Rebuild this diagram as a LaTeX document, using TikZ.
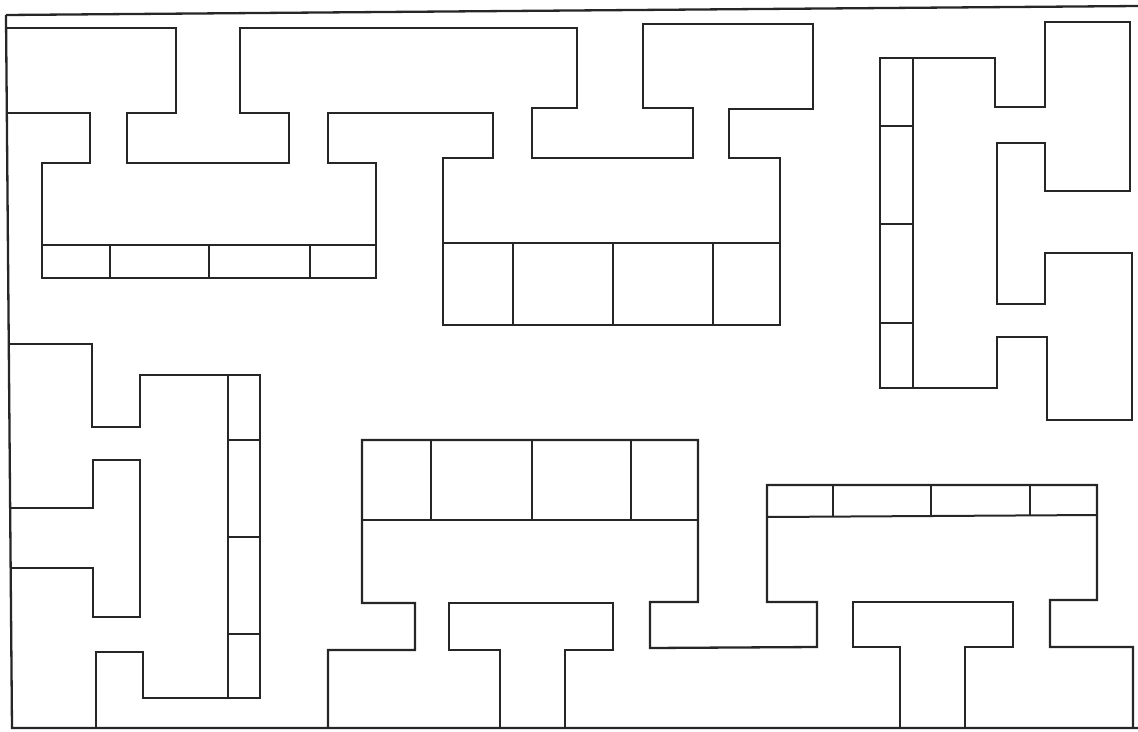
\documentclass[tikz,border=0pt]{standalone}
\usepackage{tikz}

\begin{document}
\begin{tikzpicture}[
    x=1pt, y=-1pt,
    wall/.style={draw=black!85, line width=2.3pt, line join=miter},
    room/.style={draw=black!85, line width=2pt},
]
    \useasboundingbox (0,0) rectangle (1138,731);

    % frame
    \draw[wall] (6,15) -- (1138,6);
    \draw[wall] (6,15) -- (12,728) -- (1138,728);

    % upper chain of blocks
    \draw[wall] (7,28) -- (176,28) -- (176,113) -- (127,113) -- (127,163) -- (289,163)
        -- (289,113) -- (240,113) -- (240,28) -- (577,28) -- (577,108) -- (532,108)
        -- (532,158) -- (693,158) -- (693,108) -- (643,108) -- (643,24) -- (813,24)
        -- (813,109) -- (729,109) -- (729,158) -- (780,158) -- (780,325) -- (443,325)
        -- (443,158) -- (493,158) -- (493,113) -- (328,113) -- (328,163) -- (376,163)
        -- (376,278) -- (42,278) -- (42,163) -- (90,163) -- (90,113) -- (8,113);
    \draw[room] (42,245) -- (376,245);
    \foreach \x in {110,209,310} \draw[room] (\x,245) -- (\x,278);
    \draw[room] (443,243) -- (780,243);
    \foreach \x in {513,613,713} \draw[room] (\x,243) -- (\x,325);

    % right block
    \draw[wall] (880,58) -- (995,58) -- (995,107) -- (1045,107) -- (1045,22) -- (1130,22)
        -- (1130,191) -- (1045,191) -- (1045,143) -- (997,143) -- (997,304) -- (1045,304)
        -- (1045,253) -- (1132,253) -- (1132,420) -- (1047,420) -- (1047,337) -- (997,337)
        -- (997,388) -- (880,388) -- cycle;
    \draw[room] (913,58) -- (913,388);
    \foreach \y in {126,224,323} \draw[room] (880,\y) -- (913,\y);

    % left block
    \draw[wall] (9,344) -- (92,344) -- (92,427) -- (140,427) -- (140,375) -- (260,375)
        -- (260,698) -- (143,698) -- (143,652) -- (96,652) -- (96,728);
    \draw[wall] (10,508) -- (93,508) -- (93,460) -- (140,460) -- (140,617) -- (93,617)
        -- (93,568) -- (10,568);
    \draw[room] (228,375) -- (228,698);
    \foreach \y in {440,537,634} \draw[room] (228,\y) -- (260,\y);

    % lower chain of blocks
    \draw[wall] (328,728) -- (328,650) -- (415,650) -- (415,603) -- (362,603) -- (362,440)
        -- (698,440) -- (698,602) -- (650,602) -- (650,648) -- (817,647) -- (817,602)
        -- (767,602) -- (767,485) -- (1097,485) -- (1097,600) -- (1050,600) -- (1050,647)
        -- (1133,647) -- (1133,728);
    \draw[wall] (500,728) -- (500,650) -- (449,650) -- (449,603) -- (613,603) -- (613,650)
        -- (565,650) -- (565,728);
    \draw[wall] (900,728) -- (900,647) -- (853,647) -- (853,602) -- (1013,602) -- (1013,647)
        -- (965,647) -- (965,728);
    \draw[room] (362,520) -- (698,520);
    \foreach \x in {431,532,631} \draw[room] (\x,440) -- (\x,520);
    \draw[room] (767,517) -- (1097,515);
    \foreach \x in {833,931,1030} \draw[room] (\x,485) -- (\x,516);
\end{tikzpicture}
\end{document}
